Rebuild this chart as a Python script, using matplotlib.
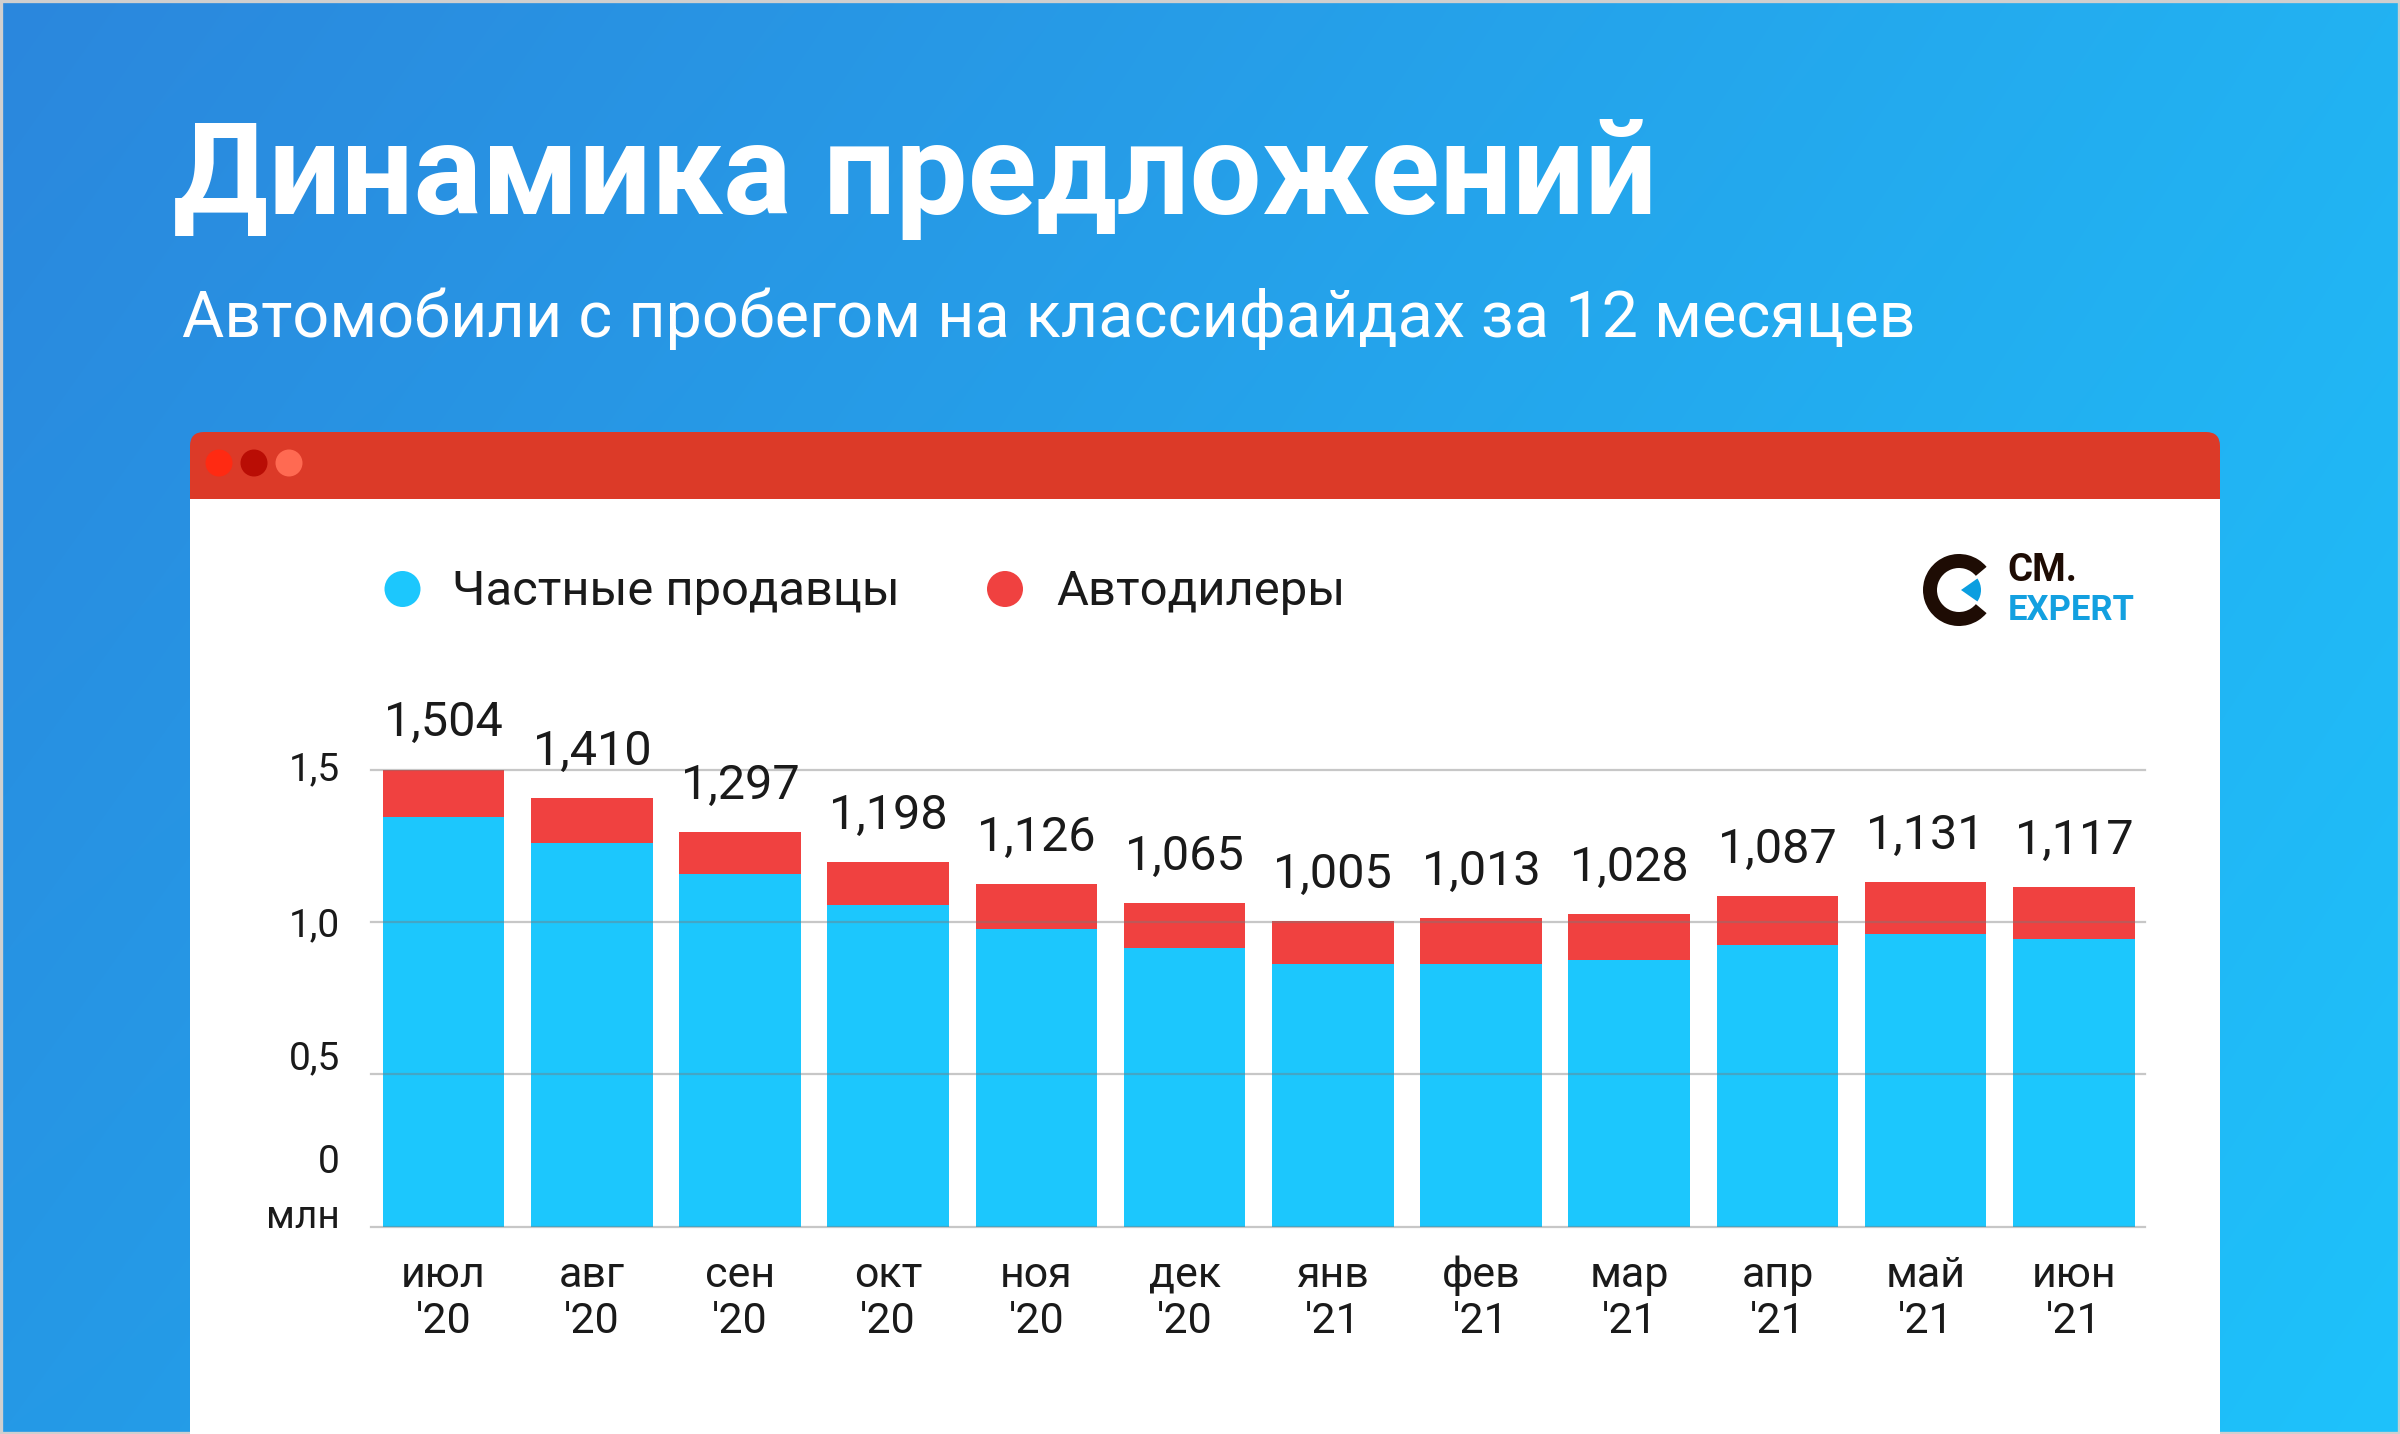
import matplotlib
matplotlib.use('Agg')
import matplotlib.pyplot as plt
import numpy as np
from matplotlib.patches import FancyBboxPatch, Rectangle, Circle, Wedge

plt.rcParams['font.family'] = ['Roboto', 'DejaVu Sans']

# ---------------- data ----------------
months = ['июл', 'авг', 'сен', 'окт', 'ноя', 'дек', 'янв', 'фев', 'мар', 'апр', 'май', 'июн']
years = ["'20", "'20", "'20", "'20", "'20", "'20", "'21", "'21", "'21", "'21", "'21", "'21"]
private = [1.345, 1.260, 1.160, 1.058, 0.979, 0.915, 0.862, 0.862, 0.875, 0.924, 0.962, 0.945]
dealers = [0.159, 0.150, 0.137, 0.140, 0.147, 0.150, 0.143, 0.151, 0.153, 0.163, 0.169, 0.172]
total_labels = ['1,504', '1,410', '1,297', '1,198', '1,126', '1,065',
                '1,005', '1,013', '1,028', '1,087', '1,131', '1,117']
grid_vals = [0, 0.5, 1.0, 1.5]
ytick_labels = ['1,5', '1,0', '0,5', '0', 'млн']
ytick_pos = [1.5, 0.99, 0.55, 0.21, 0.03]

title = 'Динамика предложений'
subtitle = 'Автомобили с пробегом на классифайдах за 12 месяцев'
legend_labels = ['Частные продавцы', 'Автодилеры']

BLUE = '#1cc7fd'
RED = '#f04140'
TXT = '#1a1a1a'

W, H = 2400, 1434
fig = plt.figure(figsize=(12, 7.17), dpi=200)

# ---------------- background ----------------
bg = fig.add_axes([0, 0, 1, 1])
bg.set_xlim(0, W)
bg.set_ylim(H, 0)
bg.axis('off')
tl = np.array([43, 135, 221]) / 255
tr = np.array([34, 178, 242]) / 255
bl = np.array([37, 153, 230]) / 255
br = np.array([30, 194, 251]) / 255
nx, ny = 240, 144
u = np.linspace(0, 1, nx)[None, :, None]
v = np.linspace(0, 1, ny)[:, None, None]
grad = (1 - u) * (1 - v) * tl + u * (1 - v) * tr + (1 - u) * v * bl + u * v * br
bg.imshow(grad, extent=(0, W, H, 0), interpolation='bilinear', aspect='auto', zorder=0)
bg.set_xlim(0, W)
bg.set_ylim(H, 0)

# border
bg.add_patch(Rectangle((1, 1), W - 2, H - 2, fill=False, ec='#cfcfcf', lw=1.2, zorder=1))

# card
bg.add_patch(FancyBboxPatch((190, 432), 2030, 1100, boxstyle='round,pad=0,rounding_size=14',
                            fc='#dc3a28', ec='none', zorder=2))
bg.add_patch(Rectangle((190, 499), 2030, 1000, fc='white', ec='none', zorder=3))
for cx, col in zip([219, 254, 289], ['#ff2a12', '#b90d05', '#ff6a52']):
    bg.add_patch(Circle((cx, 463), 13.5, fc=col, ec='none', zorder=4))

# ---------------- texts (fit width) ----------------
fig.canvas.draw()
renderer = fig.canvas.get_renderer()


def fit_text(t, target_w):
    for _ in range(3):
        bb = t.get_window_extent(renderer=renderer)
        t.set_fontsize(t.get_fontsize() * target_w / bb.width)


t1 = bg.text(173, 214, title, color='white', fontsize=43, fontweight='bold',
             ha='left', va='baseline', zorder=5)
fit_text(t1, 1483)
t2 = bg.text(182, 337, subtitle, color='white', fontsize=22, ha='left', va='baseline', zorder=5)
fit_text(t2, 1736)

# legend
bg.add_patch(Circle((402.5, 589), 18, fc=BLUE, ec='none', zorder=5))
bg.add_patch(Circle((1005, 589), 18, fc=RED, ec='none', zorder=5))
l1 = bg.text(451.5, 605, legend_labels[0], color=TXT, fontsize=16, ha='left', va='baseline', zorder=5)
fit_text(l1, 448)
l2 = bg.text(1056, 605, legend_labels[1], color=TXT, fontsize=16, ha='left', va='baseline', zorder=5)
fit_text(l2, 289)

# logo
bg.add_patch(Wedge((1959, 590), 36, 40, 320, width=14, fc='#1e0c04', ec='none', zorder=5))
bg.add_patch(Wedge((1961, 590), 20, -35, 35, fc='#0a9ee0', ec='none', zorder=5))
c1 = bg.text(2007, 581, 'СМ.', color='#1e0c04', fontsize=9, fontweight='bold',
             ha='left', va='baseline', zorder=5)
fit_text(c1, 70)
c2 = bg.text(2008, 620, 'EXPERT', color='#13a0e0', fontsize=12, fontweight='bold',
             ha='left', va='baseline', zorder=5)
fit_text(c2, 127)

# ---------------- chart ----------------
ax = fig.add_axes([371 / W, 1 - 1226.6 / H, (2145 - 371) / W, (1226.6 - 770.2) / H])
ax.set_zorder(3)
ax.patch.set_alpha(0)
x = np.arange(len(months))
ax.bar(x, private, 0.82, color=BLUE, zorder=2)
ax.bar(x, dealers, 0.82, bottom=private, color=RED, zorder=2)
ax.set_xlim(-0.49, 11.48)
ax.set_ylim(0, 1.5)
for gv in grid_vals:
    ax.axhline(gv, color='#7a7a7a', alpha=0.42, lw=0.8, zorder=3, clip_on=False)
for s in ax.spines.values():
    s.set_visible(False)
ax.set_xticks([])
ax.set_yticks([])

tops = [p + d for p, d in zip(private, dealers)]
for xi, tp, lab in zip(x, tops, total_labels):
    ax.annotate(lab, (xi, tp), xytext=(0, 11.9), textcoords='offset points',
                ha='center', va='baseline', fontsize=17.5, color=TXT, annotation_clip=False)

for xi, m, yr in zip(x, months, years):
    ax.annotate(m, (xi, 0), xytext=(0, -21.7), textcoords='offset points',
                ha='center', va='baseline', fontsize=15.5, color=TXT, annotation_clip=False)
    ax.annotate(yr, (xi, 0), xytext=(0, -38.3), textcoords='offset points',
                ha='center', va='baseline', fontsize=15.5, color=TXT, annotation_clip=False)

for lab, yp in zip(ytick_labels, ytick_pos):
    ax.annotate(lab, (0, yp), xycoords=('axes fraction', 'data'), xytext=(-11.2, 0),
                textcoords='offset points', ha='right', va='center', fontsize=14,
                color=TXT, annotation_clip=False)

fig.savefig('out.png', dpi=200)
